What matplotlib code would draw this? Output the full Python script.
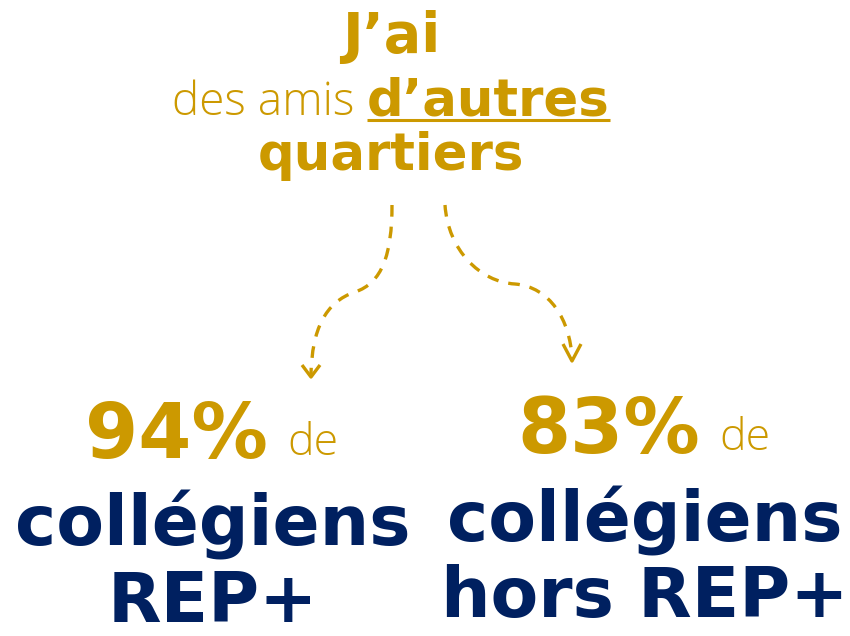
from matplotlib import pyplot as plt
from matplotlib.path import Path
from matplotlib.patches import PathPatch

GOLD = '#CC9900'
NAVY = '#002060'
HEAVY = 'DejaVu Sans'
LIGHT = 'Open Sans'

# headline
title_top = "J’ai"
title_mid_light = 'des amis '
title_mid_bold = 'd’autres'
title_bottom = 'quartiers'

# the two figures
percents = [94, 83]
groups = [['collégiens', 'REP+'], ['collégiens', 'hors REP+']]
group_x = [213, 645]


def draw_arrow(ax, verts, head):
    codes = [Path.MOVETO] + [Path.CURVE4] * (len(verts) - 1)
    ax.add_patch(PathPatch(Path(verts, codes), fill=False, edgecolor=GOLD,
                           lw=2.4, linestyle=(0, (3.5, 3)), capstyle='butt'))
    (lx, ly), (tx, ty), (rx, ry) = head
    ax.plot([lx, tx, rx], [ly, ty, ry], color=GOLD, lw=2.4, solid_capstyle='butt')


fig = plt.figure(figsize=(8.5, 6.36), dpi=100)
ax = fig.add_axes([0, 0, 1, 1])
ax.set_xlim(0, 850)
ax.set_ylim(636, 0)
ax.axis('off')

ax.text(391, 52, title_top, color=GOLD, family=HEAVY, weight='bold',
        fontsize=40, ha='center', va='baseline')

light = ax.text(172, 115, title_mid_light, color=GOLD, family=LIGHT, weight='light',
                fontsize=33, ha='left', va='baseline')
bold = ax.text(367, 115, title_mid_bold, color=GOLD, family=HEAVY, weight='bold',
               fontsize=37, ha='left', va='baseline')

ax.text(391, 170, title_bottom, color=GOLD, family=HEAVY, weight='bold',
        fontsize=37, ha='center', va='baseline')

# underline under d'autres
fig.canvas.draw()
bb = bold.get_window_extent().transformed(ax.transData.inverted())
ax.plot([bb.x0, bb.x1], [120, 120], color=GOLD, lw=2.2, solid_capstyle='butt')

# dashed arrows
draw_arrow(ax, [(392, 205), (392, 255), (382, 283), (355, 292),
                (325, 302), (312, 330), (311, 374)],
           [(302, 365), (311, 377), (320, 365)])
draw_arrow(ax, [(445, 205), (448, 250), (480, 282), (515, 284),
                (550, 287), (570, 320), (572, 358)],
           [(563, 344), (572, 361), (581, 344)])

# bottom figures
for x, pct, lines, base in zip(group_x, percents, groups, [458, 453]):
    ax.text(x + 55, base, f'{pct}%', color=GOLD, family=HEAVY, weight='bold',
            fontsize=55, ha='right', va='baseline')
    ax.text(x + 100, base - 3, 'de', color=GOLD, family=LIGHT, weight='light',
            fontsize=32, ha='center', va='baseline')
    ax.text(x, base + 88, lines[0], color=NAVY, family=HEAVY, weight='bold',
            fontsize=50, ha='center', va='baseline')
    ax.text(x, base + 164, lines[1], color=NAVY, family=HEAVY, weight='bold',
            fontsize=50, ha='center', va='baseline')

fig.savefig('out.png', dpi=100)
